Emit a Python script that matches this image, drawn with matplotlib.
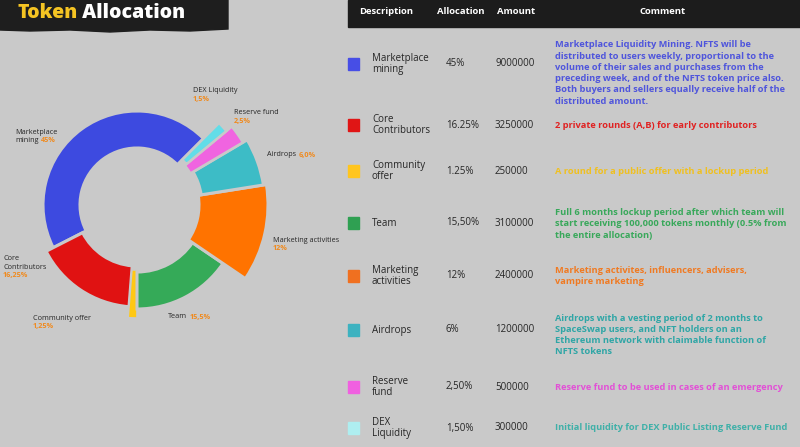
import matplotlib
matplotlib.use('Agg')
import matplotlib.pyplot as plt
from matplotlib.patches import Rectangle

plt.rcParams['font.family'] = ['Open Sans', 'DejaVu Sans']

# Data
categories = ['Marketplace\nmining', 'Core\nContributors', 'Community\noffer', 'Team',
              'Marketing\nactivities', 'Airdrops', 'Reserve\nfund', 'DEX\nLiquidity']
shares = [45, 16.25, 1.25, 15.5, 12, 6, 2.5, 1.5]
alloc_labels = ['45%', '16.25%', '1.25%', '15,50%', '12%', '6%', '2,50%', '1,50%']
amounts = [9000000, 3250000, 250000, 3100000, 2400000, 1200000, 500000, 300000]
comments = [
    'Marketplace Liquidity Mining. NFTS will be\ndistributed to users weekly, proportional to the\n'
    'volume of their sales and purchases from the\npreceding week, and of the NFTS token price also.\n'
    'Both buyers and sellers equally receive half of the\ndistributed amount.',
    '2 private rounds (A,B) for early contributors',
    'A round for a public offer with a lockup period',
    'Full 6 months lockup period after which team will\nstart receiving 100,000 tokens monthly (0.5% from\n'
    'the entire allocation)',
    'Marketing activites, influencers, advisers,\nvampire marketing',
    'Airdrops with a vesting period of 2 months to\nSpaceSwap users, and NFT holders on an\n'
    'Ethereum network with claimable function of\nNFTS tokens',
    'Reserve fund to be used in cases of an emergency',
    'Initial liquidity for DEX Public Listing Reserve Fund',
]
pie_names = ['Marketplace\nmining', 'Core\nContributors', 'Community offer', 'Team',
             'Marketing activities', 'Airdrops', 'Reserve fund', 'DEX Liquidity']
pie_pcts = ['45%', '16,25%', '1,25%', '15,5%', '12%', '6,0%', '2,5%', '1,5%']
headers = ['Description', 'Allocation', 'Amount', 'Comment']

# Colours
BG = '#c9c9c9'
pie_colors = ['#3d4ae0', '#e01212', '#ffc814', '#35aa58', '#ff7300', '#3dbcc6', '#f064e0', '#62dde8']
square_colors = ['#474ee6', '#e01515', '#ffc51e', '#2fa052', '#f07020', '#3db2c0', '#f060e0', '#aeeef0']
comment_colors = ['#4f55dc', '#e02222', '#f0c020', '#38a85a', '#f07a22', '#2fa6a6', '#e250d6', '#3fb0a8']
PCT = '#f08a1e'
TXT = '#262626'

# Layout (pixels, image coordinates)
W, H = 800, 447
cx, cy = 137, 205
r_in = [57, 61, 65, 67, 62, 65, 62, 64]
r_out = [94, 102, 113, 104, 131, 128, 123, 116]
gap_lw = [2.2, 2.2, 1.2, 2.2, 2.2, 2.2, 1.8, 1.8]
label_pos = [(15, 132, True), (3, 259, False), (33, 318, False), (168, 317, True),
             (273, 240, False), (267, 155, True), (234, 113, False), (193, 91, False)]
row_y = [64, 125, 171, 223, 276, 330, 387, 428]
comment_y = [73, 125, 171, 224, 276, 335, 387, 428]
col_x = [372, 446, 495, 555]
header_x = [386, 461, 516, 663]

fig = plt.figure(figsize=(8, 4.47), dpi=100)
fig.patch.set_facecolor(BG)

# donut, drawn in pixel units with y pointing up
axp = fig.add_axes([0, 0, 1, 1])
wedges, _ = axp.pie(shares, colors=pie_colors, startangle=45, center=(cx, H - cy), radius=100,
                    wedgeprops=dict(edgecolor=BG, linewidth=2.2))
for w, ri, ro, lw in zip(wedges, r_in, r_out, gap_lw):
    w.set_radius(ro)
    w.set_width(ro - ri)
    w.set_linewidth(lw)
axp.set_xlim(0, W)
axp.set_ylim(0, H)
axp.set_aspect('auto')
axp.set_facecolor('none')
axp.axis('off')

# everything else in image coordinates (y down)
ax = fig.add_axes([0, 0, 1, 1], facecolor='none')
ax.set_xlim(0, W)
ax.set_ylim(H, 0)
ax.axis('off')

# title banner
ax.fill([0, 228, 228, 190, 150, 110, 70, 30, 0],
        [0, 0, 29, 31, 30, 32, 30, 31, 30], color='#1e1e1e', zorder=1)
t = ax.text(17, 13, 'Token', color='#f5c423', fontsize=14, fontweight='heavy', va='center', zorder=2)
ax.annotate(' Allocation', xy=(1, 0.5), xycoords=t, va='center', ha='left',
            color='white', fontsize=14, fontweight='heavy', zorder=2)

# donut labels
line_h = 8.5
for name, pct, (x, y, inline) in zip(pie_names, pie_pcts, label_pos):
    lines = name.split('\n')
    for i, ln in enumerate(lines):
        last = ax.text(x, y + i * line_h, ln, fontsize=5.2, color=TXT, va='center', ha='left')
    if inline:
        ax.annotate(pct, xy=(1, 0.5), xycoords=last, xytext=(2, 0), textcoords='offset points',
                    fontsize=5.2, color=PCT, fontweight='bold', va='center', ha='left')
    else:
        ax.text(x, y + len(lines) * line_h, pct, fontsize=5.2, color=PCT,
                fontweight='bold', va='center', ha='left')

# table header
ax.add_patch(Rectangle((348, 0), W - 348, 27, color='#1c1c1c', zorder=1))
for hx, hd in zip(header_x, headers):
    ax.text(hx, 12, hd, color='white', fontsize=6.8, fontweight='bold',
            ha='center', va='center', zorder=2)

# table rows
for i, cat in enumerate(categories):
    y = row_y[i]
    ax.add_patch(Rectangle((348, y - 6), 11, 12, color=square_colors[i]))
    ax.text(col_x[0], y, cat, fontsize=7, color=TXT, fontweight='medium',
            va='center', ha='left', linespacing=1.1)
    ax.text(col_x[1], y, alloc_labels[i], fontsize=7, color=TXT, fontweight='medium',
            va='center', ha='left')
    ax.text(col_x[2], y, str(amounts[i]), fontsize=7, color=TXT, fontweight='medium',
            va='center', ha='left')
    ax.text(col_x[3], comment_y[i], comments[i], fontsize=6.7, color=comment_colors[i],
            fontweight='bold', va='center', ha='left', linespacing=1.33)

fig.savefig('out.png', dpi=100, facecolor=fig.get_facecolor())
